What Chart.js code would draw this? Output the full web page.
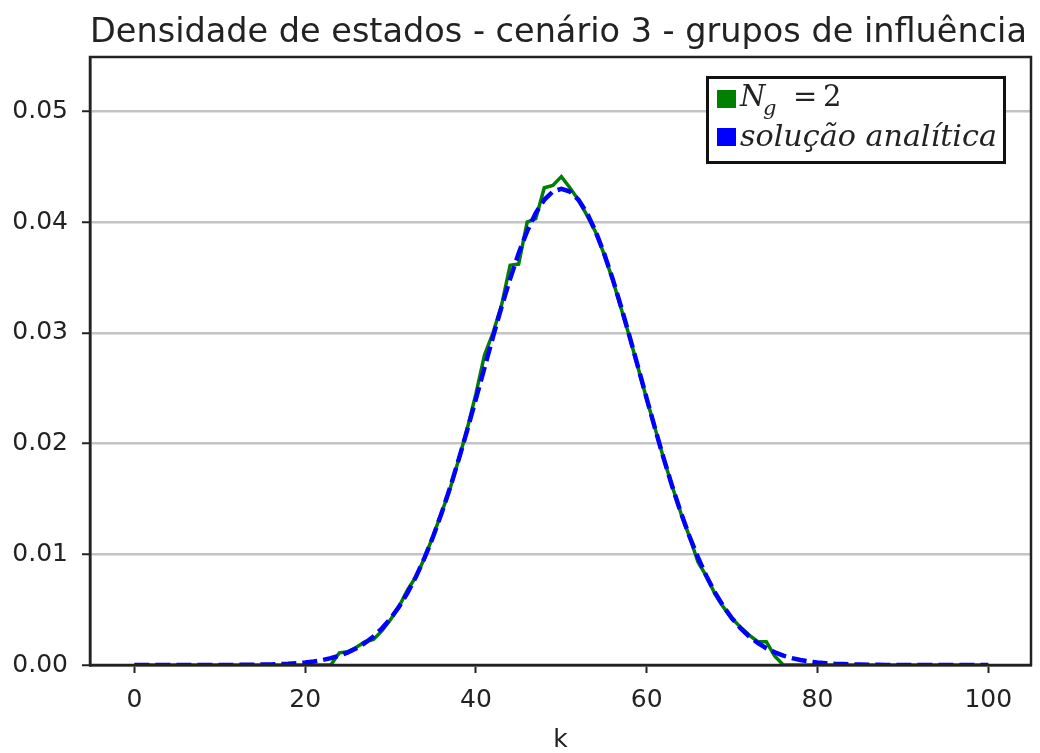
<!DOCTYPE html>
<html>
<head>
<meta charset="utf-8">
<script src="https://cdn.jsdelivr.net/npm/chart.js@4"></script>
<style>
  html, body { margin: 0; padding: 0; background: #fff; }
  canvas { display: block; }
</style>
</head>
<body>
<canvas id="chart" width="1040" height="753"></canvas>
<script>
// x values (k = 0..100)
const kValues = [];
for (let i = 0; i <= 100; i++) kValues.push(i);

// simulation, N_g = 2
const simulated = [
  0, 0, 0, 0, 0, 0, 0, 0, 0, 0,
  0, 0, 0, 0, 0, 0, 0, 0, 0, 0,
  0, 0, 0, 0, 0.0011, 0.0012, 0.0016, 0.0021, 0.0023, 0.0031,
  0.0041, 0.0053, 0.0068, 0.0080, 0.0097, 0.0117, 0.0138, 0.0160, 0.0186, 0.0214,
  0.0245, 0.0280, 0.0300, 0.0325, 0.0361, 0.0362, 0.0400, 0.0403, 0.0431, 0.0433,
  0.0441, 0.0431, 0.0420, 0.0406, 0.0391, 0.0371, 0.0348, 0.0322, 0.0296, 0.0268,
  0.0240, 0.0213, 0.0186, 0.0161, 0.0137, 0.0116, 0.0093, 0.0080, 0.0064, 0.0052,
  0.0042, 0.0034, 0.0027, 0.0021, 0.0021, 0.0008, 0, 0, 0, 0,
  0, 0, 0, 0, 0, 0, 0, 0, 0, 0,
  0, 0, 0, 0, 0, 0, 0, 0, 0, 0,
  0
];

// analytical solution
const analytic = [
  0, 0, 0, 0, 0, 0, 0, 0, 0, 0,
  0, 0, 0.00001, 0.00002, 0.00002, 0.00004, 0.00005, 0.00008, 0.00011, 0.00016,
  0.00023, 0.00032, 0.00045, 0.00062, 0.00084, 0.00114, 0.00151, 0.00199, 0.00258, 0.00331,
  0.00420, 0.00527, 0.00654, 0.00801, 0.00971, 0.01162, 0.01376, 0.01609, 0.01861, 0.02128,
  0.02404, 0.02685, 0.02964, 0.03234, 0.03488, 0.03718, 0.03918, 0.04081, 0.04201, 0.04275,
  0.04300, 0.04275, 0.04201, 0.04081, 0.03918, 0.03718, 0.03488, 0.03234, 0.02964, 0.02685,
  0.02404, 0.02128, 0.01861, 0.01609, 0.01376, 0.01162, 0.00971, 0.00801, 0.00654, 0.00527,
  0.00420, 0.00331, 0.00258, 0.00199, 0.00151, 0.00114, 0.00084, 0.00062, 0.00045, 0.00032,
  0.00023, 0.00016, 0.00011, 0.00008, 0.00005, 0.00004, 0.00002, 0.00002, 0.00001, 0,
  0, 0, 0, 0, 0, 0, 0, 0, 0, 0,
  0
];

const xTicks = [0, 20, 40, 60, 80, 100];
const yTicks = [0, 0.01, 0.02, 0.03, 0.04, 0.05];

const titleText = 'Densidade de estados - cenário 3 - grupos de influência';
const seriesColors = { sim: 'green', analytic: 'blue' };

const toPoints = (ys) => ys.map((y, i) => ({ x: kValues[i], y: y }));

// title, frame and the legend box (legend has a subscript, so drawn by hand)
const decorations = {
  id: 'decorations',
  afterDraw(chart) {
    const ctx = chart.ctx;
    const area = chart.chartArea;
    ctx.save();

    // frame (all four spines)
    ctx.strokeStyle = '#222';
    ctx.lineWidth = 2.5;
    ctx.strokeRect(area.left, area.top, area.right - area.left, area.bottom - area.top);

    // title
    ctx.fillStyle = '#222';
    ctx.font = '33.5px "DejaVu Sans"';
    ctx.textAlign = 'center';
    ctx.textBaseline = 'alphabetic';
    ctx.fillText(titleText, (area.left + area.right) / 2 - 2, 42);

    // legend box
    ctx.fillStyle = '#fff';
    ctx.fillRect(707, 77, 297, 86);
    ctx.strokeStyle = '#111';
    ctx.lineWidth = 3;
    ctx.strokeRect(707.5, 77.5, 297, 85);

    ctx.fillStyle = seriesColors.sim;
    ctx.fillRect(717, 90, 19, 18);
    ctx.fillStyle = seriesColors.analytic;
    ctx.fillRect(717, 128, 19, 18);

    ctx.fillStyle = '#222';
    ctx.textAlign = 'left';
    ctx.font = 'italic 29px "DejaVu Serif"';
    ctx.fillText('N', 740, 106);
    ctx.font = 'italic 21px "DejaVu Serif"';
    ctx.fillText('g', 763, 115);
    ctx.font = '29px "DejaVu Serif"';
    ctx.fillText('=', 793, 106);
    ctx.fillText('2', 823, 106);

    let size = 26;
    ctx.font = 'italic ' + size + 'px "DejaVu Serif"';
    size = size * 257 / ctx.measureText('solução analítica').width;
    ctx.font = 'italic ' + size.toFixed(1) + 'px "DejaVu Serif"';
    ctx.fillText('solução analítica', 740, 146);

    ctx.restore();
  }
};

const ctx = document.getElementById('chart').getContext('2d');
new Chart(ctx, {
  type: 'line',
  data: {
    datasets: [
      {
        label: 'solução analítica',
        data: toPoints(analytic),
        borderColor: seriesColors.analytic,
        borderWidth: 4.5,
        borderDash: [15, 6],
        pointRadius: 0,
        fill: false,
        tension: 0,
      },
      {
        label: 'N_g = 2',
        data: toPoints(simulated),
        borderColor: seriesColors.sim,
        borderWidth: 3.5,
        pointRadius: 0,
        fill: false,
        tension: 0,
      },
    ],
  },
  options: {
    responsive: false,
    animation: false,
    layout: { padding: { top: 57, right: 9, left: 0, bottom: 0 } },
    plugins: {
      legend: { display: false },
      title: { display: false },
      tooltip: { enabled: false },
    },
    scales: {
      x: {
        type: 'linear',
        min: -5.2,
        max: 105,
        afterBuildTicks: (scale) => { scale.ticks = xTicks.map(v => ({ value: v })); },
        afterFit: (scale) => { scale.height = 88; },
        grid: { drawOnChartArea: false, drawTicks: true, tickLength: 8, tickColor: '#222', tickWidth: 2 },
        border: { display: true, color: '#222', width: 2.5 },
        ticks: {
          color: '#222',
          font: { family: 'DejaVu Sans', size: 25 },
          padding: 12,
          maxRotation: 0,
        },
        title: {
          display: true,
          text: 'k',
          color: '#222',
          font: { family: 'DejaVu Sans', size: 25 },
          padding: { top: 0, bottom: -2 },
        },
      },
      y: {
        type: 'linear',
        min: 0,
        max: 0.0549,
        afterBuildTicks: (scale) => { scale.ticks = yTicks.map(v => ({ value: v })); },
        afterFit: (scale) => { scale.width = 90; },
        grid: { color: '#c4c4c4', lineWidth: 2.5, drawTicks: true, tickLength: 8, tickColor: '#222', tickWidth: 2 },
        border: { display: true, color: '#222', width: 2.5 },
        ticks: {
          color: '#222',
          font: { family: 'DejaVu Sans', size: 25 },
          padding: 14,
          callback: (v) => Number(v).toFixed(2),
        },
      },
    },
  },
  plugins: [decorations],
});
</script>
</body>
</html>
